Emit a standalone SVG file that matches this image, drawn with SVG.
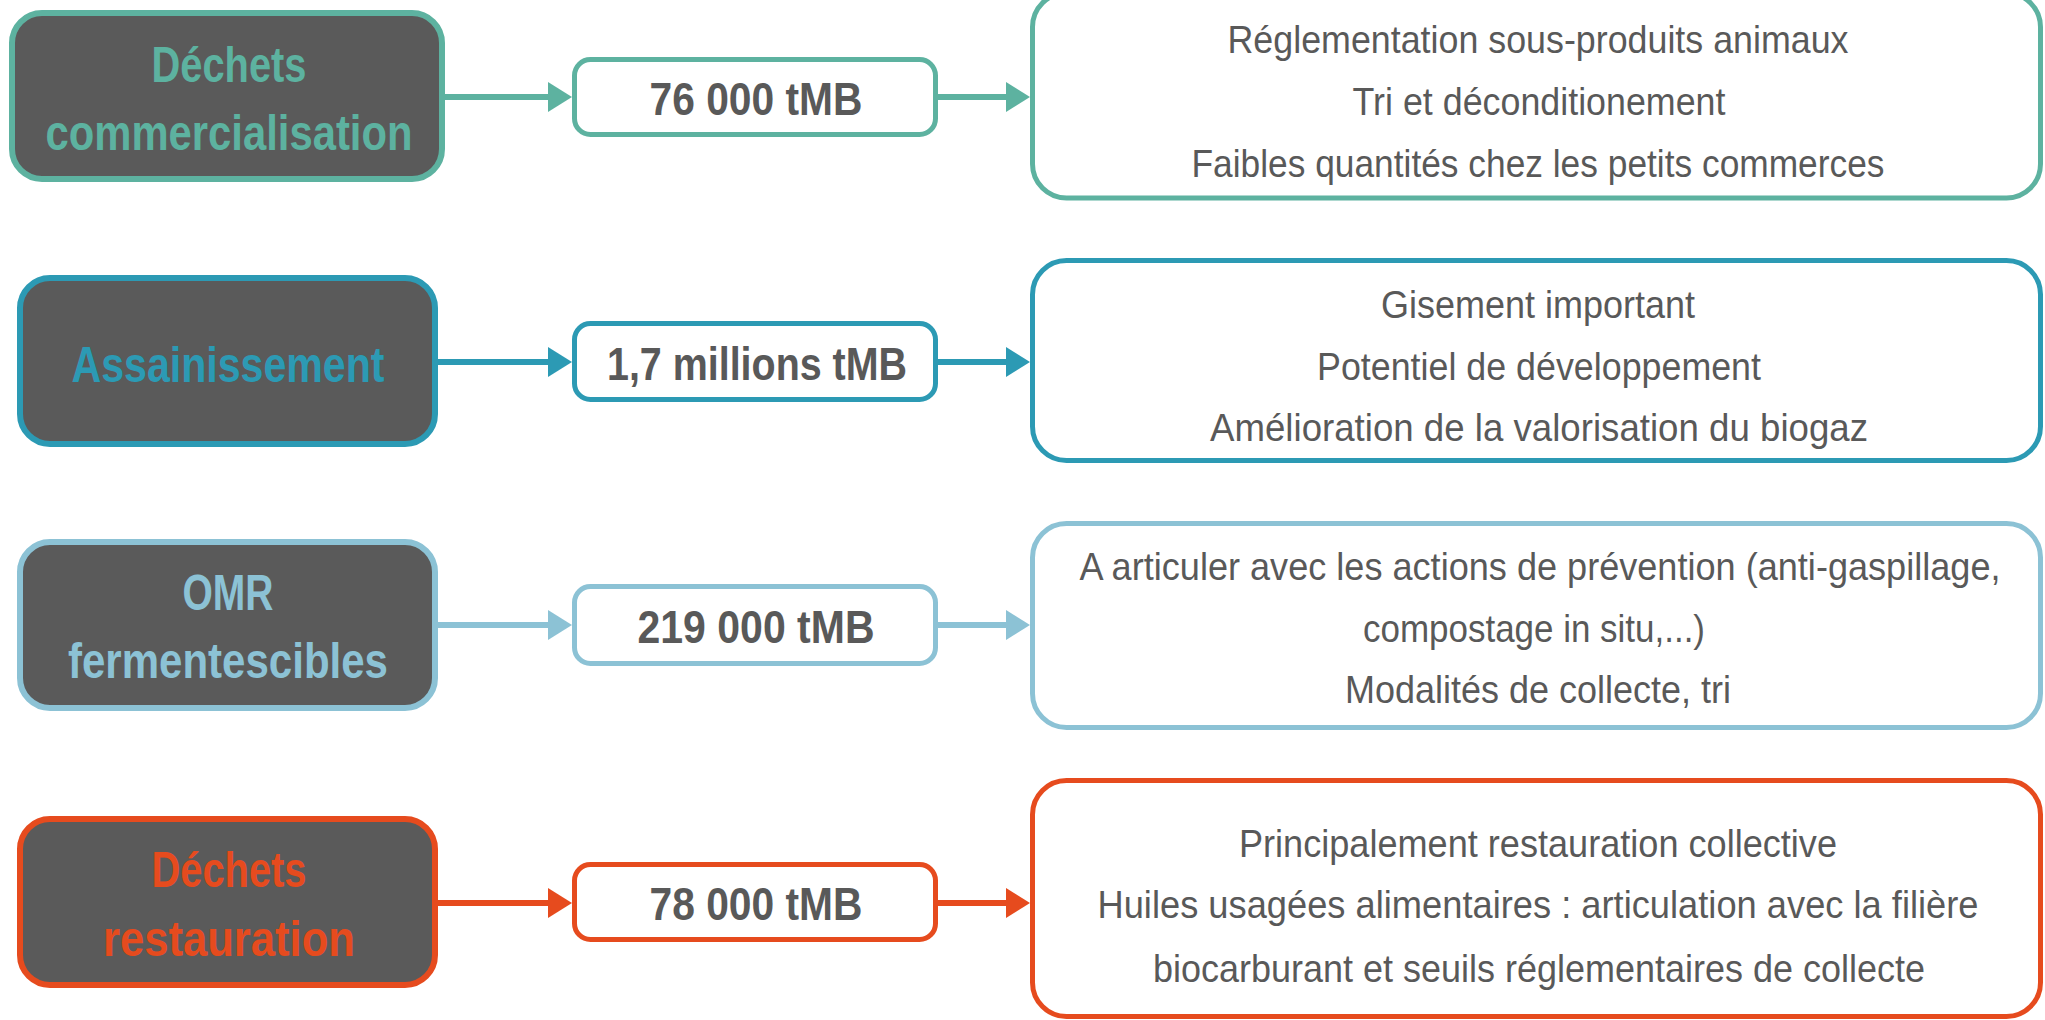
<svg xmlns="http://www.w3.org/2000/svg" width="2045" height="1020" viewBox="0 0 2045 1020">
<defs>
<style>
.src{fill:#5a5a5a;stroke-width:6}
.mid{fill:#fff;stroke-width:5}
.big{fill:#fff;stroke-width:5}
.t{font-family:"Liberation Sans Narrow","Liberation Sans",Arial,sans-serif;text-anchor:middle}
.st{font-size:50px;font-weight:bold}
.mt{font-size:47px;font-weight:bold;fill:#595959}
.bt{font-size:39px;fill:#595959}
.c1{stroke:#5db2a0}.f1{fill:#5db2a0}
.c2{stroke:#2c9ab4}.f2{fill:#2c9ab4}
.c3{stroke:#8cc2d5}.f3{fill:#8cc2d5}
.c4{stroke:#e64b1e}.f4{fill:#e64b1e}
.ln{fill:none;stroke-width:6}
</style>
<marker id="a1" markerUnits="userSpaceOnUse" markerWidth="24" markerHeight="30" refX="4" refY="15" orient="auto"><path d="M0,0 L24,15 L0,30 z" fill="#5db2a0"/></marker>
<marker id="a2" markerUnits="userSpaceOnUse" markerWidth="24" markerHeight="30" refX="4" refY="15" orient="auto"><path d="M0,0 L24,15 L0,30 z" fill="#2c9ab4"/></marker>
<marker id="a3" markerUnits="userSpaceOnUse" markerWidth="24" markerHeight="30" refX="4" refY="15" orient="auto"><path d="M0,0 L24,15 L0,30 z" fill="#8cc2d5"/></marker>
<marker id="a4" markerUnits="userSpaceOnUse" markerWidth="24" markerHeight="30" refX="4" refY="15" orient="auto"><path d="M0,0 L24,15 L0,30 z" fill="#e64b1e"/></marker>
</defs>
<rect width="2045" height="1020" fill="#fff"/>

<g id="connectors">
<path class="ln c1" d="M444,97 H552" marker-end="url(#a1)"/>
<path class="ln c1" d="M938,97 H1010" marker-end="url(#a1)"/>
<path class="ln c2" d="M438,362 H552" marker-end="url(#a2)"/>
<path class="ln c2" d="M938,362 H1010" marker-end="url(#a2)"/>
<path class="ln c3" d="M438,625 H552" marker-end="url(#a3)"/>
<path class="ln c3" d="M938,625 H1010" marker-end="url(#a3)"/>
<path class="ln c4" d="M438,903 H552" marker-end="url(#a4)"/>
<path class="ln c4" d="M938,903 H1010" marker-end="url(#a4)"/>
</g>

<g id="src1">
<rect class="src c1" x="12" y="13" width="430" height="166" rx="30"/>
<text class="t st f1" x="229" y="82" textLength="155" lengthAdjust="spacingAndGlyphs">Déchets</text>
<text class="t st f1" x="229" y="150" textLength="367" lengthAdjust="spacingAndGlyphs">commercialisation</text>
</g>
<g id="qty1">
<rect class="mid c1" x="574.5" y="59.5" width="361" height="75" rx="16"/>
<text class="t mt" x="756" y="115" textLength="213" lengthAdjust="spacingAndGlyphs">76 000 tMB</text>
</g>
<g id="note1">
<rect class="big c1" x="1032.5" y="-7" width="1008" height="205" rx="34"/>
<text class="t bt" x="1538" y="53" textLength="621" lengthAdjust="spacingAndGlyphs">Réglementation sous-produits animaux</text>
<text class="t bt" x="1539" y="115" textLength="373" lengthAdjust="spacingAndGlyphs">Tri et déconditionement</text>
<text class="t bt" x="1538" y="177" textLength="693" lengthAdjust="spacingAndGlyphs">Faibles quantités chez les petits commerces</text>
</g>

<g id="src2">
<rect class="src c2" x="20" y="278" width="415" height="166" rx="30"/>
<text class="t st f2" x="228" y="382" textLength="313" lengthAdjust="spacingAndGlyphs">Assainissement</text>
</g>
<g id="qty2">
<rect class="mid c2" x="574.5" y="323.5" width="361" height="76" rx="16"/>
<text class="t mt" x="757" y="380" textLength="300" lengthAdjust="spacingAndGlyphs">1,7 millions tMB</text>
</g>
<g id="note2">
<rect class="big c2" x="1032.5" y="260.5" width="1008" height="200" rx="34"/>
<text class="t bt" x="1538" y="318" textLength="314" lengthAdjust="spacingAndGlyphs">Gisement important</text>
<text class="t bt" x="1539" y="380" textLength="444" lengthAdjust="spacingAndGlyphs">Potentiel de développement</text>
<text class="t bt" x="1539" y="441" textLength="658" lengthAdjust="spacingAndGlyphs">Amélioration de la valorisation du biogaz</text>
</g>

<g id="src3">
<rect class="src c3" x="20" y="542" width="415" height="166" rx="30"/>
<text class="t st f3" x="228" y="610" textLength="91" lengthAdjust="spacingAndGlyphs">OMR</text>
<text class="t st f3" x="228" y="678" textLength="320" lengthAdjust="spacingAndGlyphs">fermentescibles</text>
</g>
<g id="qty3">
<rect class="mid c3" x="574.5" y="586.5" width="361" height="77" rx="16"/>
<text class="t mt" x="756" y="643" textLength="237" lengthAdjust="spacingAndGlyphs">219 000 tMB</text>
</g>
<g id="note3">
<rect class="big c3" x="1032.5" y="523.5" width="1008" height="204" rx="34"/>
<text class="t bt" x="1540" y="580" textLength="921" lengthAdjust="spacingAndGlyphs">A articuler avec les actions de prévention (anti-gaspillage,</text>
<text class="t bt" x="1534" y="642" textLength="342" lengthAdjust="spacingAndGlyphs">compostage in situ,...)</text>
<text class="t bt" x="1538" y="703" textLength="386" lengthAdjust="spacingAndGlyphs">Modalités de collecte, tri</text>
</g>

<g id="src4">
<rect class="src c4" x="20" y="819" width="415" height="166" rx="30"/>
<text class="t st f4" x="229" y="887" textLength="155" lengthAdjust="spacingAndGlyphs">Déchets</text>
<text class="t st f4" x="229" y="956" textLength="252" lengthAdjust="spacingAndGlyphs">restauration</text>
</g>
<g id="qty4">
<rect class="mid c4" x="574.5" y="864.5" width="361" height="75" rx="16"/>
<text class="t mt" x="756" y="920" textLength="213" lengthAdjust="spacingAndGlyphs">78 000 tMB</text>
</g>
<g id="note4">
<rect class="big c4" x="1032.5" y="780.5" width="1008" height="236" rx="34"/>
<text class="t bt" x="1538" y="857" textLength="598" lengthAdjust="spacingAndGlyphs">Principalement restauration collective</text>
<text class="t bt" x="1538" y="918" textLength="881" lengthAdjust="spacingAndGlyphs">Huiles usagées alimentaires : articulation avec la filière</text>
<text class="t bt" x="1539" y="982" textLength="772" lengthAdjust="spacingAndGlyphs">biocarburant et seuils réglementaires de collecte</text>
</g>
</svg>
